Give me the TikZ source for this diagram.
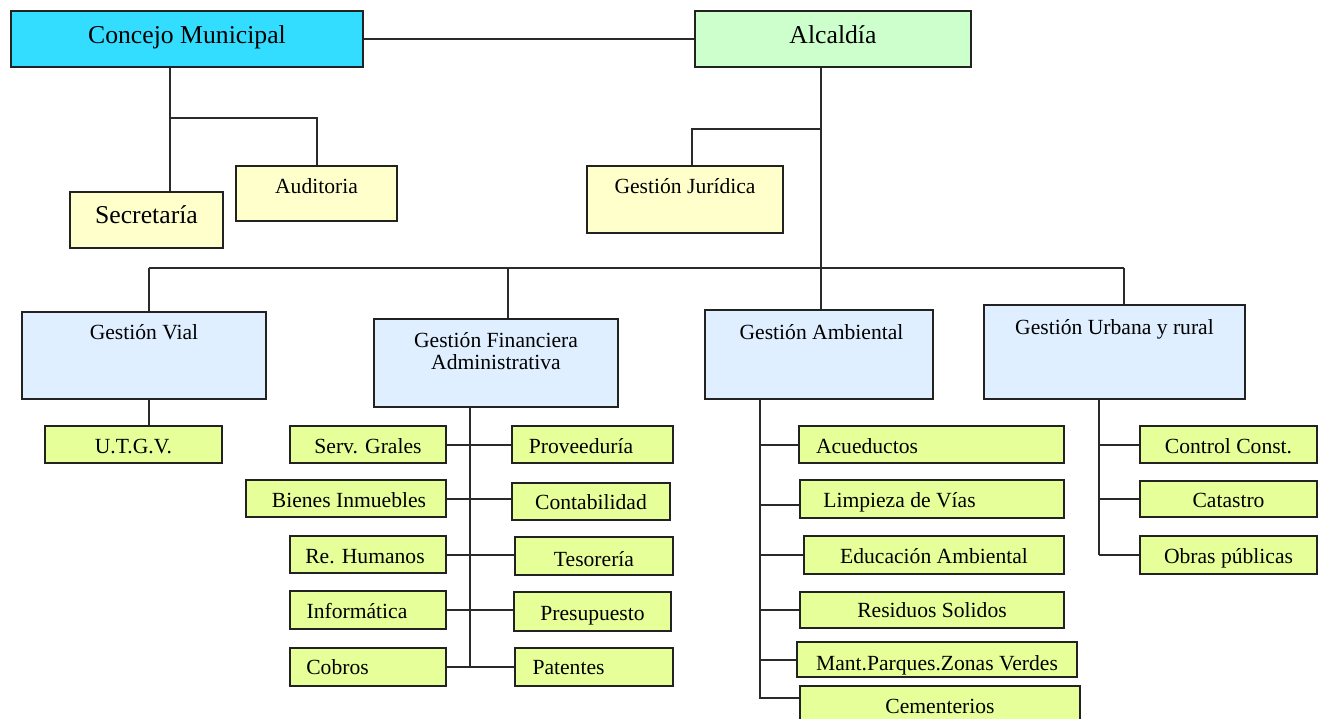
\documentclass[tikz,border=0pt]{standalone}
\usepackage{fontspec}
\setmainfont{Liberation Serif}
\definecolor{councilcyan}{HTML}{33DDFF}
\definecolor{mayorgreen}{HTML}{CCFFCC}
\definecolor{staffyellow}{HTML}{FFFFCC}
\definecolor{deptblue}{HTML}{DFEFFF}
\definecolor{unitlime}{HTML}{E6FF99}
\definecolor{boxline}{HTML}{222222}
\definecolor{linkgray}{HTML}{2A2A2A}
% \orgbox{name}{style}{x1}{y1}{x2}{y2}{baseline y}{text}
% draws a box between two corners with its (last) text line on the given baseline
\newcommand\orgbox[8]{%
  \pgfmathsetmacro\obw{#5-#3}%
  \pgfmathsetmacro\obh{#6-#4}%
  \pgfmathsetmacro\obd{2*(#7-#4)-(#6-#4)}%
  \pgfmathsetmacro\obth{max(\obd,0)}%
  \pgfmathsetmacro\obtd{max(-\obd,0)}%
  \node[#2, minimum width=\obw pt, minimum height=\obh pt,
        text height=\obth pt, text depth=\obtd pt]
       (#1) at ({(#3+#5)/2},{(#4+#6)/2}) {#8};}
\begin{document}
\begin{tikzpicture}[x=1pt,y=-1pt,
  box/.style={draw=boxline, line width=1.8pt, inner sep=0pt,
              font=\fontsize{21.6}{22}\selectfont, text=black},
  big/.style={font=\fontsize{25.7}{30}\selectfont},
  council/.style={box, big, fill=councilcyan},
  mayor/.style={box, big, fill=mayorgreen},
  staff/.style={box, fill=staffyellow},
  dept/.style={box, fill=deptblue},
  unit/.style={box, fill=unitlime},
  link/.style={draw=linkgray, line width=2pt}]
\path[use as bounding box, fill=white] (0,0) rectangle (1318,718);
\clip (0,0) rectangle (1318,718);

% top level
\orgbox{concejo}{council}{11}{11}{363}{67}{43}{Concejo Municipal}
\orgbox{alcaldia}{mayor}{695}{11}{971}{67}{43}{Alcaldía}
\orgbox{secretaria}{staff, big}{70}{192}{223}{248}{223}{Secretaría}
\orgbox{auditoria}{staff}{236}{166}{397}{221}{193}{Auditoria}
\orgbox{juridica}{staff}{587}{166}{783}{233}{193}{Gestión Jurídica}

% departments
\orgbox{vial}{dept}{22}{312}{266}{399}{339}{Gestión Vial}
\orgbox{financiera}{dept, align=center}{374}{319}{618}{407}{369}{Gestión Financiera\\Administrativa}
\orgbox{ambiental}{dept}{705}{310}{933}{399}{339}{\hspace*{5pt}Gestión Ambiental}
\orgbox{urbana}{dept}{984}{305}{1245}{399}{334}{Gestión Urbana y rural}

% road management
\orgbox{utgv}{unit}{45}{426}{222}{463}{453}{U.T.G.V.}

% finance and administration
\orgbox{servgrales}{unit}{290}{426}{446}{463}{453}{Serv. Grales}
\orgbox{bienes}{unit}{246}{480}{446}{517}{507}{\hspace*{6pt}Bienes Inmuebles}
\orgbox{rehumanos}{unit}{290}{536}{446}{573}{563}{Re. Humanos\hspace*{6pt}}
\orgbox{informatica}{unit}{290}{591}{446}{629}{618}{Informática\hspace*{22pt}}
\orgbox{cobros}{unit}{290}{648}{446}{686}{674}{Cobros\hspace*{61pt}}
\orgbox{proveeduria}{unit}{512}{426}{673}{463}{453}{Proveeduría\hspace*{23pt}}
\orgbox{contabilidad}{unit}{512}{483}{670}{520}{509}{Contabilidad}
\orgbox{tesoreria}{unit}{515}{537}{673}{575}{566}{Tesorería}
\orgbox{presupuesto}{unit}{514}{592}{671}{631}{620}{Presupuesto}
\orgbox{patentes}{unit}{515}{648}{673}{686}{674}{Patentes\hspace*{51pt}}

% environment
\orgbox{acueductos}{unit}{799}{426}{1064}{463}{453}{Acueductos\hspace*{129pt}}
\orgbox{limpieza}{unit}{800}{480}{1064}{518}{507}{Limpieza de Vías\hspace*{65pt}}
\orgbox{educacion}{unit}{804}{536}{1064}{574}{563}{Educación Ambiental}
\orgbox{residuos}{unit}{800}{592}{1064}{628}{617}{Residuos Solidos}
\orgbox{mant}{unit}{797}{642}{1077}{677}{670}{Mant.Parques.Zonas Verdes}
\orgbox{cementerios}{unit}{800}{686}{1080}{740}{713}{Cementerios}

% urban and rural
\orgbox{control}{unit}{1140}{426}{1317}{463}{453}{Control Const.}
\orgbox{catastro}{unit}{1140}{481}{1317}{517}{507}{Catastro}
\orgbox{obras}{unit}{1140}{536}{1317}{574}{563}{Obras públicas}

% trunk and bus coordinates
\coordinate (cmx) at (170,0);
\coordinate (cmj) at (170,118);
\coordinate (amx) at (821,0);
\coordinate (amj) at (821,129);
\coordinate (jux) at (692,0);
\coordinate (bus) at (0,268);
\coordinate (vx) at ([xshift=5pt]vial.north);
\coordinate (fx) at ([xshift=12pt]financiera.north);
\coordinate (ux) at ([xshift=9.5pt]urbana.north);
\coordinate (ft) at ([xshift=-26pt]financiera.south);
\coordinate (at) at ([xshift=-59pt]ambiental.south);
\coordinate (ut) at ([xshift=-15.5pt]urbana.south);
\coordinate (cemin) at ([yshift=-13pt]cementerios.north west);
\coordinate (limin) at ([yshift=-6pt]limpieza.west);

% council and mayor
\draw[link] (concejo.east) -- (alcaldia.west);
\draw[link] (concejo.south -| cmx) -- (secretaria.north -| cmx);
\draw[link] (cmj) -| (auditoria.north);
\draw[link] (alcaldia.south -| amx) -- (ambiental.north -| amx);
\draw[link] (amj) -| (juridica.north -| jux);

% department bus
\draw[link] (vx |- bus) -- (ux |- bus);
\draw[link] (vx |- bus) -- (vx);
\draw[link] (fx |- bus) -- (fx);
\draw[link] (ux |- bus) -- (ux);

% road management
\draw[link] ([xshift=5pt]vial.south) -- ([xshift=5pt]vial.south |- utgv.north);

% finance and administration
\draw[link] (ft) -- (ft |- cobros.east);
\draw[link] (servgrales.east) -- (servgrales.east -| proveeduria.west);
\draw[link] (bienes.east) -- (bienes.east -| contabilidad.west);
\draw[link] (rehumanos.east) -- (rehumanos.east -| tesoreria.west);
\draw[link] (informatica.east) -- (informatica.east -| presupuesto.west);
\draw[link] (cobros.east) -- (cobros.east -| patentes.west);

% environment
\draw[link] (at) -- (at |- cemin) -- (cemin);
\draw[link] (at |- acueductos.west) -- (acueductos.west);
\draw[link] (at |- limin) -- (limin);
\draw[link] (at |- educacion.west) -- (educacion.west);
\draw[link] (at |- residuos.west) -- (residuos.west);
\draw[link] (at |- mant.west) -- (mant.west);

% urban and rural
\draw[link] (ut) -- (ut |- obras.west);
\draw[link] (ut |- control.west) -- (control.west);
\draw[link] (ut |- catastro.west) -- (catastro.west);
\draw[link] (ut |- obras.west) -- (obras.west);
\end{tikzpicture}
\end{document}
